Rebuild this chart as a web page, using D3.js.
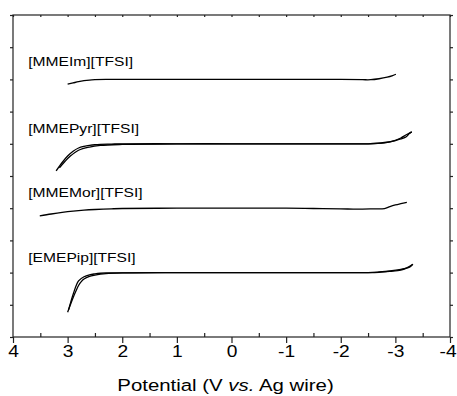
<!DOCTYPE html>
<html>
<head>
<meta charset="utf-8">
<script src="https://cdn.jsdelivr.net/npm/d3@7"></script>
<style>
  body { margin: 0; background: #fff; }
  svg text { font-family: "Liberation Sans", Arial, sans-serif; fill: #000; }
</style>
</head>
<body>
<div id="graphic"></div>
<script>
// linear sweep voltammograms, curves stacked with an offset
const xTicks = [4, 3, 2, 1, 0, -1, -2, -3, -4];
const xMinorTicks = [3.5, 2.5, 1.5, 0.5, -0.5, -1.5, -2.5, -3.5];
const yTicks = [0, 1, 2, 3, 4, 5, 6, 7, 8, 9, 10];

const sampleNames = ['[MMEIm][TFSI]', '[MMEPyr][TFSI]', '[MMEMor][TFSI]', '[EMEPip][TFSI]'];
const labelPotential = [3.72, 3.72, 3.72, 3.72];
const labelLevel = [8.42, 6.34, 4.36, 2.34];

const mmeImV = [3.0, 2.9, 2.8, 2.7, 2.6, 2.5, 2.3, 2.0, 1.0, 0, -1.0, -2.0, -2.4, -2.55, -2.7, -2.85, -2.95, -3.01];
const mmeImI = [7.85, 7.89, 7.93, 7.96, 7.98, 7.99, 8.0, 8.0, 8.0, 8.0, 8.0, 8.0, 7.99, 7.99, 8.02, 8.07, 8.12, 8.16];

const mmePyrV1 = [3.21, 3.1, 3.0, 2.9, 2.8, 2.7, 2.6, 2.5, 2.4, 2.2, 2.0, 1.0, 0, -1.0, -2.0, -2.5, -2.8, -3.0, -3.1, -3.2, -3.3];
const mmePyrI1 = [5.16, 5.42, 5.62, 5.77, 5.87, 5.92, 5.95, 5.97, 5.98, 5.99, 6.0, 6.0, 6.0, 6.0, 6.0, 6.0, 6.04, 6.11, 6.18, 6.28, 6.37];
const mmePyrV2 = [-3.3, -3.25, -3.2, -3.1, -3.0, -2.8, -2.5, -2.0, -1.0, 0, 1.0, 2.0, 2.4, 2.6, 2.8, 2.95, 3.05, 3.15];
const mmePyrI2 = [6.37, 6.31, 6.22, 6.15, 6.1, 6.03, 6.0, 6.0, 6.0, 6.0, 6.0, 5.98, 5.95, 5.9, 5.8, 5.62, 5.45, 5.25];

const mmeMorV = [3.51, 3.3, 3.1, 2.9, 2.7, 2.5, 2.2, 2.0, 1.0, 0, -1.0, -1.5, -2.0, -2.3, -2.6, -2.8, -2.9, -3.0, -3.1, -3.21];
const mmeMorI = [3.76, 3.82, 3.87, 3.91, 3.94, 3.96, 3.98, 3.99, 4.0, 4.0, 4.0, 3.99, 3.98, 3.97, 3.98, 3.99, 4.05, 4.1, 4.14, 4.18];

const emePipV1 = [3.0, 2.95, 2.9, 2.85, 2.8, 2.75, 2.7, 2.6, 2.5, 2.4, 2.3, 2.0, 1.0, 0, -1.0, -2.0, -2.5, -2.7, -2.9, -3.1, -3.2, -3.32];
const emePipI1 = [0.77, 1.0, 1.22, 1.42, 1.6, 1.72, 1.8, 1.88, 1.92, 1.95, 1.97, 1.99, 2.0, 2.0, 2.0, 2.0, 2.0, 2.01, 2.04, 2.08, 2.14, 2.26];
const emePipV2 = [-3.32, -3.25, -3.1, -2.9, -2.7, -2.5, -2.0, -1.0, 0, 1.0, 2.0, 2.3, 2.4, 2.5, 2.6, 2.7, 2.8, 2.9, 2.98];
const emePipI2 = [2.26, 2.16, 2.1, 2.05, 2.02, 2.0, 2.0, 2.0, 2.0, 2.0, 1.99, 1.99, 1.98, 1.96, 1.93, 1.87, 1.74, 1.32, 0.85];

const traces = [
  [mmeImV, mmeImI],
  [mmePyrV1, mmePyrI1],
  [mmePyrV2, mmePyrI2],
  [mmeMorV, mmeMorI],
  [emePipV1, emePipI1],
  [emePipV2, emePipI2]
];

const margin = { top: 15, right: 7, bottom: 59, left: 13 };
const totalW = 457, totalH = 396;
const width = totalW - margin.left - margin.right;
const height = totalH - margin.top - margin.bottom;
// the reference text is a bit wider than the font, stretch it sideways
const textStretch = 1.2;

const x = d3.scaleLinear().domain([4, -4]).range([0, width]);
const y = d3.scaleLinear().domain([0, 10]).range([height, 0]);

const svg = d3.select('#graphic').append('svg')
  .attr('width', totalW)
  .attr('height', totalH)
  .append('g')
  .attr('transform', 'translate(' + margin.left + ',' + margin.top + ')');

// frame
svg.append('rect')
  .attr('width', width)
  .attr('height', height)
  .attr('fill', 'none')
  .attr('stroke', '#222')
  .attr('stroke-width', 1.2);

// bottom axis: labelled ticks point out, half ticks point in
const xAxisBottom = d3.axisBottom(x).tickValues(xTicks).tickSize(6).tickPadding(3)
  .tickFormat(d => (d < 0 ? '-' + Math.abs(d) : String(d)));
const gx = svg.append('g')
  .attr('transform', 'translate(0,' + height + ')')
  .call(xAxisBottom);
gx.select('.domain').remove();
gx.selectAll('line').attr('stroke', '#222').attr('stroke-width', 1.2);
gx.selectAll('text')
  .attr('font-size', 16)
  .attr('transform', 'scale(' + textStretch + ',1)')
  // last label sits on the page edge, pull it in a little
  .attr('x', (d, i) => (i === xTicks.length - 1 ? -2 : 0));

svg.append('g')
  .attr('transform', 'translate(0,' + height + ')')
  .call(d3.axisTop(x).tickValues(xMinorTicks).tickSize(4).tickFormat(''))
  .call(g => g.select('.domain').remove())
  .selectAll('line').attr('stroke', '#222').attr('stroke-width', 1.2);

// top axis
svg.append('g')
  .call(d3.axisBottom(x).tickValues(xTicks.concat(xMinorTicks)).tickSize(2).tickFormat(''))
  .call(g => g.select('.domain').remove())
  .selectAll('line').attr('stroke', '#222').attr('stroke-width', 1.2);

// left and right axes, no labels
svg.append('g')
  .call(d3.axisLeft(y).tickValues(yTicks).tickSize(3).tickFormat(''))
  .call(g => g.select('.domain').remove())
  .selectAll('line').attr('stroke', '#222').attr('stroke-width', 1.2);
svg.append('g')
  .attr('transform', 'translate(' + width + ',0)')
  .call(d3.axisRight(y).tickValues(yTicks).tickSize(3).tickFormat(''))
  .call(g => g.select('.domain').remove())
  .selectAll('line').attr('stroke', '#222').attr('stroke-width', 1.2);

// curves
const line = d3.line()
  .x(d => x(d[0]))
  .y(d => y(d[1]))
  .curve(d3.curveCatmullRom.alpha(0.5));

svg.selectAll('.trace')
  .data(traces)
  .enter().append('path')
  .attr('class', 'trace')
  .attr('fill', 'none')
  .attr('stroke', '#000')
  .attr('stroke-width', 1.3)
  .attr('d', d => line(d[0].map((v, i) => [v, d[1][i]])));

// sample labels
svg.selectAll('.sample_label')
  .data(sampleNames)
  .enter().append('text')
  .attr('class', 'sample_label')
  .attr('font-size', 13)
  .attr('transform', (d, i) => 'translate(' + x(labelPotential[i]) + ',' + y(labelLevel[i]) + ') scale(' + textStretch + ',1)')
  .text(d => d);

// axis title
svg.append('text')
  .attr('font-size', 17)
  .attr('text-anchor', 'middle')
  .attr('transform', 'translate(' + (width / 2 - 6) + ',' + (height + 54) + ') scale(' + textStretch + ',1)')
  .append('tspan').text('Potential (V ')
  .append('tspan').attr('font-style', 'italic').text('vs.')
  .append('tspan').attr('font-style', 'normal').text(' Ag wire)');
</script>
</body>
</html>
